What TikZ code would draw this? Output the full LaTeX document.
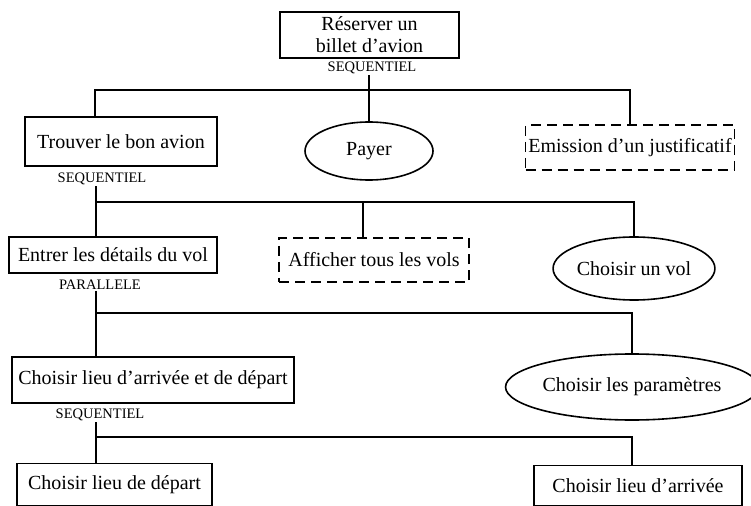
\documentclass[tikz,border=0pt]{standalone}
\usepackage{fontspec}
\setmainfont{Liberation Serif}
\usetikzlibrary{shapes.geometric, positioning}
\tikzset{
  task/.style = {rectangle, draw=black, line width=1.6bp, align=center, inner sep=2bp, font=\fontsize{20bp}{22bp}\selectfont},
  optask/.style = {task, dash pattern=on 10bp off 6bp},
  leaf/.style = {ellipse, draw=black, line width=1.6bp, align=center, inner sep=0pt, font=\fontsize{20bp}{22bp}\selectfont},
  kind/.style = {inner sep=1bp, font=\fontsize{14.5bp}{16bp}\selectfont},
  link/.style = {line width=1.4bp}
}
\begin{document}
\begin{tikzpicture}[x=1bp, y=-1bp]

  \useasboundingbox (0,0) rectangle (751,506);

  % Root task
  \node (reserver) [task, minimum width=179bp, minimum height=46bp] at (369.5,35) {R\'eserver un\\billet d'avion};
  \node (lbl0) [kind] at (372,68) {SEQUENTIEL};

  % Level 1
  \node (trouver) [task, minimum width=192bp, minimum height=49bp] at (121,141.5) {Trouver le bon avion};
  \node (payer) [leaf, minimum width=128bp, minimum height=58bp] at (369,151) {Payer};
  \node (emission) [optask, minimum width=209bp, minimum height=45bp] at (630,147.5) {Emission d'un justificatif};
  \node (lbl1) [kind] at (102,179) {SEQUENTIEL};

  % Level 2
  \node (entrer) [task, minimum width=208bp, minimum height=36bp] at (113,255) {Entrer les d\'etails du vol};
  \node (afficher) [optask, minimum width=190bp, minimum height=44bp] at (374,260) {Afficher tous les vols};
  \node (choisirvol) [leaf, minimum width=156bp, minimum height=63bp] at (634,268.5) {Choisir un vol};
  \node (lbl2) [kind] at (100,285) {PARALLELE};

  % Level 3
  \node (lieux) [task, minimum width=282bp, minimum height=46bp] at (153,380) {Choisir lieu d'arriv\'ee et de d\'epart};
  \node (param) [leaf, minimum width=236bp, minimum height=66bp] at (632,387) {Choisir les param\`etres};
  \node (lbl3) [kind] at (100,415) {SEQUENTIEL};

  % Level 4
  \node (depart) [task, minimum width=195bp, minimum height=42bp] at (114.5,484.5) {Choisir lieu de d\'epart};
  \node (arrivee) [task, minimum width=208bp, minimum height=40bp] at (638,485.5) {Choisir lieu d'arriv\'ee};

  % Bus coordinates
  \coordinate (b0) at (95,90);
  \coordinate (b1) at (96,202);
  \coordinate (d1) at (363,202);
  \coordinate (b2) at (96,313);
  \coordinate (b3) at (96,437);

  % Connections
  \draw[link] (payer.north |- lbl0.south) -- (payer.north);
  \draw[link] (b0 |- trouver.north) -- (b0) -| (emission.north);

  \draw[link] (b1 |- lbl1.south) -- (b1 |- entrer.north);
  \draw[link] (b1) -| (choisirvol.north);
  \draw[link] (d1) -- (d1 |- afficher.north);

  \draw[link] (b2 |- lbl2.south) -- (b2 |- lieux.north);
  \draw[link] (b2) -| (param.north);

  \draw[link] (b3 |- lbl3.south) -- (b3 |- depart.north);
  \draw[link] (b3) -| ([xshift=-6bp]arrivee.north);

\end{tikzpicture}
\end{document}
